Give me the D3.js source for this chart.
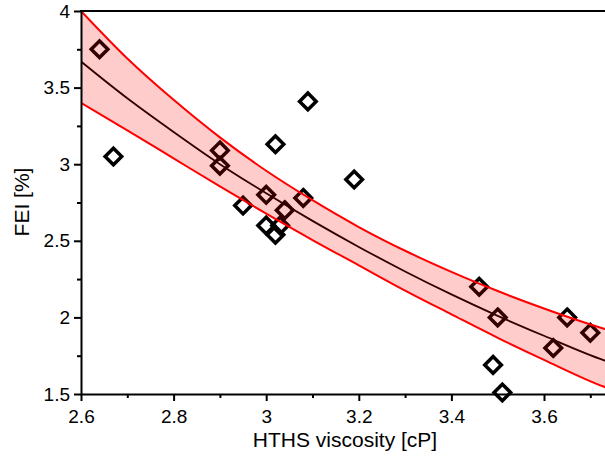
<!DOCTYPE html>
<html>
<head>
<meta charset="utf-8">
<script src="https://cdn.jsdelivr.net/npm/d3@7"></script>
<style>
  html, body { margin: 0; padding: 0; background: #fff; }
  svg { display: block; }
</style>
</head>
<body>
<svg id="chart" width="605" height="456"></svg>
<script>
// ---- data ----
const pointX = [2.64, 2.67, 2.90, 2.90, 2.95, 3.02, 3.00, 3.04, 3.00, 3.03, 3.02, 3.08, 3.09, 3.19, 3.46, 3.50, 3.65, 3.70, 3.62, 3.49, 3.51];
const pointY = [3.75, 3.05, 3.09, 2.99, 2.73, 3.13, 2.80, 2.70, 2.60, 2.60, 2.54, 2.78, 3.41, 2.90, 2.20, 2.00, 2.00, 1.90, 1.80, 1.69, 1.51];

const fitX     = [2.60, 2.70, 2.80, 2.90, 3.00, 3.10, 3.20, 3.30, 3.40, 3.50, 3.60, 3.73, 3.76];
const fitMid   = [3.67, 3.43, 3.21, 3.00, 2.81, 2.63, 2.46, 2.30, 2.15, 2.01, 1.88, 1.72, 1.69];
const fitUpper = [4.00, 3.69, 3.42, 3.175, 2.957, 2.765, 2.59, 2.435, 2.297, 2.172, 2.058, 1.926, 1.90];
const fitLower = [3.40, 3.221, 3.038, 2.855, 2.677, 2.505, 2.34, 2.175, 2.02, 1.867, 1.723, 1.547, 1.515];

const xMajorTicks = [2.6, 2.8, 3.0, 3.2, 3.4, 3.6];
const xMajorLabels = ["2.6", "2.8", "3", "3.2", "3.4", "3.6"];
const xMinorTicks = [2.7, 2.9, 3.1, 3.3, 3.5, 3.7];
const yMajorTicks = [1.5, 2, 2.5, 3, 3.5, 4];
const yMajorLabels = ["1.5", "2", "2.5", "3", "3.5", "4"];
const yMinorTicks = [1.75, 2.25, 2.75, 3.25, 3.75];

const xTitle = "HTHS viscosity [cP]";
const yTitle = "FEI [%]";

// ---- layout ----
const svg = d3.select("#chart");
const mLeft = 81, mTop = 11, mBottom = 394;
const x = d3.scaleLinear().domain([2.6, 3.8]).range([mLeft, mLeft + 1.2 * 463]);
const y = d3.scaleLinear().domain([1.5, 4]).range([mBottom, mTop]);
const mRight = x.range()[1];

svg.append("defs").append("clipPath").attr("id", "plotclip")
  .append("rect").attr("x", mLeft).attr("y", mTop).attr("width", mRight - mLeft).attr("height", mBottom - mTop);

const lineLayer = svg.append("g").attr("clip-path", "url(#plotclip)");
const pointLayer = svg.append("g");
const bandLayer = svg.append("g").attr("clip-path", "url(#plotclip)");

const fitData = fitX.map((v, i) => ({x: v, m: fitMid[i], u: fitUpper[i], l: fitLower[i]}));
const curve = d3.curveMonotoneX;

// fit line (under the band)
lineLayer.append("path")
  .datum(fitData)
  .attr("fill", "none")
  .attr("stroke", "#000")
  .attr("stroke-width", 1.8)
  .attr("d", d3.line().curve(curve).x(d => x(d.x)).y(d => y(d.m)));

// points
const diamond = (cx, cy, r) => `M${cx},${cy - r}L${cx + r},${cy}L${cx},${cy + r}L${cx - r},${cy}Z`;
pointLayer.selectAll("path.pt")
  .data(pointX.map((v, i) => ({x: v, y: pointY[i]})))
  .join("path")
  .attr("class", "pt")
  .attr("d", d => diamond(x(d.x), y(d.y), 8.3))
  .attr("fill", "none")
  .attr("stroke", "#000")
  .attr("stroke-width", 3.5)
  .attr("stroke-linejoin", "miter");

// confidence band (semi-transparent, over points)
bandLayer.append("path")
  .datum(fitData)
  .attr("fill", "rgba(255,0,0,0.2)")
  .attr("stroke", "none")
  .attr("d", d3.area().curve(curve).x(d => x(d.x)).y0(d => y(d.l)).y1(d => y(d.u)));

bandLayer.append("path")
  .datum(fitData)
  .attr("fill", "none").attr("stroke", "#ff0000").attr("stroke-width", 2)
  .attr("d", d3.line().curve(curve).x(d => x(d.x)).y(d => y(d.u)));
bandLayer.append("path")
  .datum(fitData)
  .attr("fill", "none").attr("stroke", "#ff0000").attr("stroke-width", 2)
  .attr("d", d3.line().curve(curve).x(d => x(d.x)).y(d => y(d.l)));

// ---- axes ----
const font = "'Liberation Sans', Arial, sans-serif";

svg.append("g").attr("transform", `translate(0,${mBottom})`)
  .call(d3.axisBottom(x).tickValues(xMajorTicks)
    .tickFormat((d, i) => xMajorLabels[i]).tickSize(7).tickPadding(9).tickSizeOuter(0));
svg.append("g").attr("transform", `translate(0,${mBottom})`)
  .call(d3.axisBottom(x).tickValues(xMinorTicks).tickFormat("").tickSize(4).tickSizeOuter(0))
  .call(g => g.select(".domain").remove());

svg.append("g").attr("transform", `translate(${mLeft},0)`)
  .call(d3.axisLeft(y).tickValues(yMajorTicks)
    .tickFormat((d, i) => yMajorLabels[i]).tickSize(7).tickPadding(4).tickSizeOuter(0));
svg.append("g").attr("transform", `translate(${mLeft},0)`)
  .call(d3.axisLeft(y).tickValues(yMinorTicks).tickFormat("").tickSize(4).tickSizeOuter(0))
  .call(g => g.select(".domain").remove());

svg.selectAll(".domain").attr("stroke", "#000").attr("stroke-width", 2);
svg.selectAll(".tick line").attr("stroke", "#000").attr("stroke-width", 2);
svg.selectAll(".tick text").attr("fill", "#000").style("font-family", font).style("font-size", "19px");

// top border
svg.append("line")
  .attr("x1", mLeft - 1).attr("x2", mRight).attr("y1", mTop).attr("y2", mTop)
  .attr("stroke", "#000").attr("stroke-width", 2);

// titles
svg.append("text")
  .attr("x", 345).attr("y", 447)
  .attr("text-anchor", "middle")
  .style("font-family", font).style("font-size", "21px").attr("fill", "#000")
  .text(xTitle);

svg.append("text")
  .attr("transform", `translate(29,${202}) rotate(-90)`)
  .attr("text-anchor", "middle")
  .style("font-family", font).style("font-size", "21px").attr("fill", "#000")
  .text(yTitle);
</script>
</body>
</html>
